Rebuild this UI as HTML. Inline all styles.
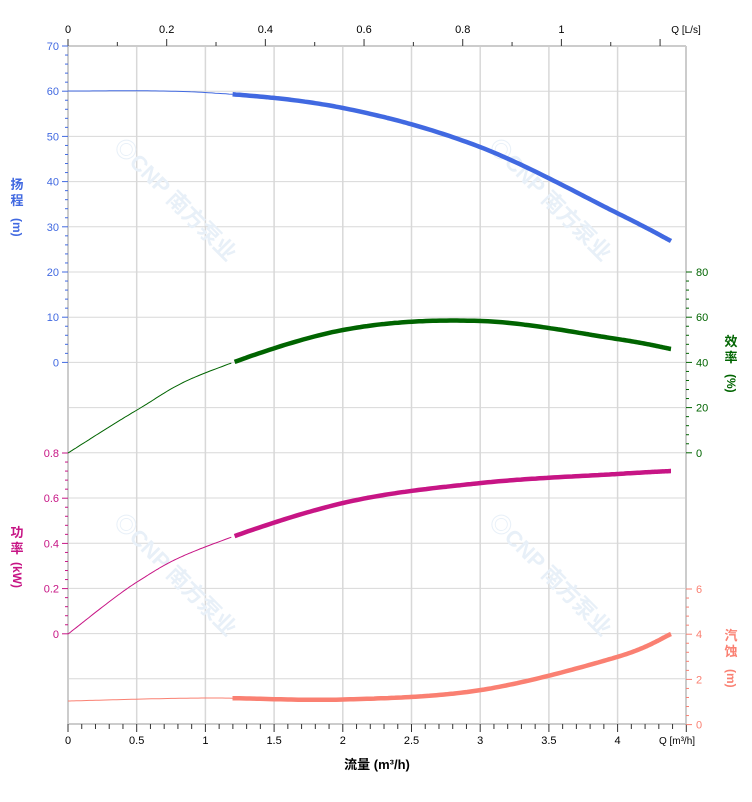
<!DOCTYPE html>
<html><head><meta charset="utf-8"><style>
body{margin:0;background:#fff;width:752px;height:797px;overflow:hidden}
svg{font-family:"Liberation Sans","Noto Sans CJK SC",sans-serif;font-size:11px}
</style></head><body>
<svg id="s" width="752" height="797" xmlns="http://www.w3.org/2000/svg"></svg>
<script>
const s=document.getElementById('s');let h='';
const L=68,R=686,T=46,B=724;
for(let i=0;i<=15;i++){const y=T+i*45.2;h+=`<line x1="${L}" x2="${R}" y1="${y}" y2="${y}" stroke="#d8d8d8"/>`;}
for(let i=1;i<=8;i++){const x=L+i*68.7;h+=`<line x1="${x}" x2="${x}" y1="${T}" y2="${B}" stroke="#d8d8d8" stroke-width="1.5"/>`;}
h+=`<line x1="${L}" x2="${L}" y1="${T}" y2="${B}" stroke="#ccc" stroke-width="2"/><line x1="${R}" x2="${R}" y1="${T}" y2="${B}" stroke="#ccc" stroke-width="2"/>`;
h+=`<line x1="${L}" x2="${R}" y1="${T}" y2="${T}" stroke="#ccc" stroke-width="2"/><line x1="${L}" x2="${R}" y1="${B}" y2="${B}" stroke="#ccc" stroke-width="2"/>`;
for(let i=0;i<=45;i++){const x=L+i*13.74;const big=i%5==0;h+=`<line x1="${x}" x2="${x}" y1="${B}" y2="${B+(big?8:5)}" stroke="#333"/>`;}
['0','0.5','1','1.5','2','2.5','3','3.5','4'].forEach((t,i)=>{h+=`<text x="${L+i*68.7}" y="${B+20}" text-anchor="middle">${t}</text>`});
h+=`<text x="677" y="${B+20}" text-anchor="middle" font-size="10">Q [m³/h]</text>`;
h+=`<text x="377" y="769" text-anchor="middle" font-weight="bold" font-size="13">流量 (m³/h)</text>`;
const pl=493.4;
for(let i=0;i<=12;i++){const x=L+i*pl/10;if(x>R)break;const big=i%2==0;h+=`<line x1="${x}" x2="${x}" y1="${T}" y2="${T-(big?7:4)}" stroke="#333"/>`;}
['0','0.2','0.4','0.6','0.8','1'].forEach((t,i)=>{h+=`<text x="${L+i*pl/5}" y="33" text-anchor="middle">${t}</text>`});
h+=`<text x="686" y="33" text-anchor="middle" font-size="10">Q [L/s]</text>`;
for(let i=0;i<=35;i++){const y=T+i*9.04;h+=`<line x1="${L}" x2="${L-(i%5==0?6:3)}" y1="${y}" y2="${y}" stroke="#4169E1"/>`;}
for(let v=70;v>=0;v-=10){h+=`<text x="59" y="${T+(70-v)*4.52+4}" text-anchor="end" fill="#4169E1">${v}</text>`;}
for(let i=0;i<=20;i++){const y=453+i*9.04;h+=`<line x1="${L}" x2="${L-(i%5==0?6:3)}" y1="${y}" y2="${y}" stroke="#C71585"/>`;}
['0.8','0.6','0.4','0.2','0'].forEach((t,i)=>{h+=`<text x="59" y="${453+i*45.2+4}" text-anchor="end" fill="#C71585">${t}</text>`});
for(let i=0;i<=20;i++){const y=272+i*9.04;h+=`<line x1="${R}" x2="${R+(i%5==0?6:3)}" y1="${y}" y2="${y}" stroke="#006400"/>`;}
['80','60','40','20','0'].forEach((t,i)=>{h+=`<text x="696" y="${272+i*45.2+4}" fill="#006400">${t}</text>`});
for(let i=0;i<=15;i++){const y=589+i*9.04;h+=`<line x1="${R}" x2="${R+(i%5==0?6:3)}" y1="${y}" y2="${y}" stroke="#FA8072"/>`;}
['6','4','2','0'].forEach((t,i)=>{h+=`<text x="696" y="${589+i*45.2+4}" fill="#FA8072">${t}</text>`});
function vt(x,y,chars,c){chars.forEach((ch,i)=>{h+=`<text x="${x}" y="${y+i*16}" text-anchor="middle" font-weight="bold" font-size="13" fill="${c}">${ch}</text>`});}
vt(17,189,['扬','程'],'#4169E1');h+=`<text transform="translate(13,218) rotate(90)" font-weight="bold" font-size="12" fill="#4169E1">(m)</text>`;
vt(17,537,['功','率'],'#C71585');h+=`<text transform="translate(13,562) rotate(90)" font-weight="bold" font-size="12" fill="#C71585">(kW)</text>`;
vt(731,346,['效','率'],'#006400');h+=`<text transform="translate(727,374) rotate(90)" font-weight="bold" font-size="12" fill="#006400">(%)</text>`;
vt(731,640,['汽','蚀'],'#FA8072');h+=`<text transform="translate(727,669) rotate(90)" font-weight="bold" font-size="12" fill="#FA8072">(m)</text>`;
[[170,205],[545,205],[170,580],[545,580]].forEach(([x,y])=>{h+=`<text transform="translate(${x},${y}) rotate(45)" text-anchor="middle" font-size="22" font-weight="bold" fill="#e8f0f8">◎CNP 南方泵业</text>`});
function cr(p){const out=[];for(let i=0;i<p.length-1;i++){const p0=p[i-1]||p[i],p1=p[i],p2=p[i+1],p3=p[i+2]||p2;for(let k=0;k<40;k++){const t=k/40,t2=t*t,t3=t2*t;const f=(a,b,c,d)=>0.5*((2*b)+(-a+c)*t+(2*a-5*b+4*c-d)*t2+(-a+3*b-3*c+d)*t3);out.push([f(p0[0],p1[0],p2[0],p3[0]),f(p0[1],p1[1],p2[1],p3[1])]);}}out.push(p[p.length-1]);return out;}
function curve(pts,c){const d=cr(pts);const a=d.filter(p=>p[0]<=234),b=d.filter(p=>p[0]>=232);const pp=q=>'M'+q.map(p=>p[0].toFixed(1)+','+p[1].toFixed(1)).join(' L');h+=`<path d="${pp(a)}" fill="none" stroke="${c}" stroke-width="1"/><path d="${pp(b)}" fill="none" stroke="${c}" stroke-width="4.5" stroke-linejoin="round"/>`;}
curve([[68,91],[205,92.5],[343,108],[480,147],[617,213],[671,241]],'#4169E1');
curve([[68,453],[137,410],[205,373],[343,330],[481,321],[617,339],[671,349]],'#006400');
curve([[68,634],[137,582],[205,547],[343,503],[481,483],[617,474],[671,471]],'#C71585');
curve([[68,701],[205,698],[343,699.5],[481,690],[617,657],[671,634]],'#FA8072');
s.innerHTML=h;
</script>
</body></html>
